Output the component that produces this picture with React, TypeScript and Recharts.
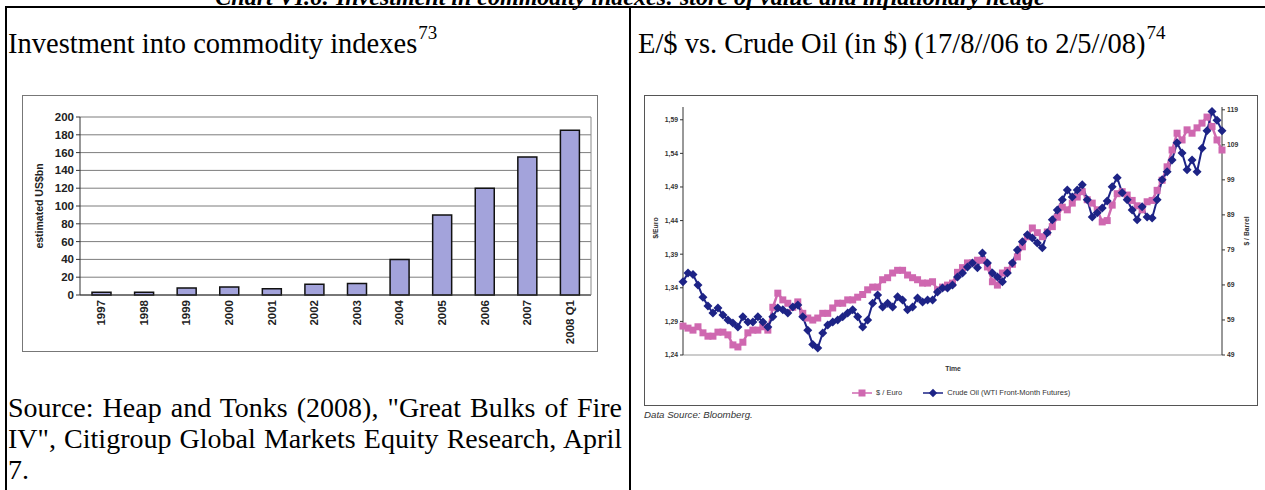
import React from 'react'
import { BarChart, Bar, XAxis, YAxis, CartesianGrid, LineChart, Line } from 'recharts'

// left chart: investment into commodity indexes (US$bn)
const years = ['1997', '1998', '1999', '2000', '2001', '2002', '2003', '2004', '2005', '2006', '2007', '2008 Q1']
const investment = [3, 3, 8, 9, 7, 12, 13, 40, 90, 120, 155, 185]
const investTicks = [0, 20, 40, 60, 80, 100, 120, 140, 160, 180, 200]

// right chart: $/Euro vs crude oil, 17/8/06 to 2/5/08
const eurUsd = [
  1.283, 1.28, 1.277, 1.282, 1.273, 1.268, 1.268, 1.274, 1.274, 1.27,
  1.255, 1.252, 1.259, 1.273, 1.277, 1.277, 1.282, 1.277, 1.311, 1.332,
  1.322, 1.317, 1.311, 1.319, 1.302, 1.295, 1.292, 1.295, 1.302, 1.302,
  1.31, 1.317, 1.317, 1.322, 1.322, 1.326, 1.33, 1.337, 1.341, 1.341,
  1.352, 1.355, 1.362, 1.366, 1.366, 1.359, 1.355, 1.352, 1.347, 1.347,
  1.349, 1.337, 1.341, 1.344, 1.347, 1.363, 1.37, 1.377, 1.377, 1.381,
  1.381, 1.371, 1.349, 1.344, 1.362, 1.366, 1.375, 1.386, 1.401, 1.416,
  1.429, 1.422, 1.416, 1.423, 1.431, 1.445, 1.46, 1.456, 1.466, 1.475,
  1.483, 1.471, 1.466, 1.456, 1.438, 1.44, 1.463, 1.48, 1.483, 1.478,
  1.47, 1.462, 1.456, 1.468, 1.47, 1.485, 1.5, 1.52, 1.545, 1.57,
  1.56, 1.575, 1.57, 1.578, 1.585, 1.594, 1.58, 1.56, 1.545,
]
const crudeOil = [
  69.9, 72.4, 72.0, 69.0, 65.5, 63.0, 61.0, 62.4, 60.4, 59.0,
  58.1, 57.0, 59.9, 58.4, 58.4, 59.9, 58.4, 57.0, 59.9, 62.4,
  61.9, 61.0, 62.7, 63.3, 59.9, 56.1, 52.0, 51.0, 55.3, 57.6,
  58.4, 59.0, 59.9, 61.0, 61.9, 59.9, 57.0, 59.0, 63.8, 66.1,
  62.7, 63.8, 62.7, 65.6, 64.7, 61.9, 62.7, 65.3, 64.1, 64.7,
  64.7, 67.0, 68.1, 68.1, 69.0, 71.3, 72.4, 74.1, 75.3, 73.9,
  78.1, 75.3, 72.4, 71.3, 69.9, 72.4, 75.3, 79.0, 81.3, 83.3,
  82.4, 81.0, 79.6, 83.9, 87.6, 90.4, 93.3, 96.1, 94.1, 96.1,
  97.6, 93.3, 88.4, 89.6, 91.0, 93.0, 97.0, 99.6, 95.3, 93.3,
  90.4, 87.6, 91.3, 88.4, 88.1, 93.3, 99.0, 101.3, 104.7, 109.6,
  106.7, 101.9, 104.7, 101.3, 108.0, 113.0, 118.5, 116.0, 113.0,
]
const eurTicks = [1.24, 1.29, 1.34, 1.39, 1.44, 1.49, 1.54, 1.59]
const oilTicks = [49, 59, 69, 79, 89, 99, 109, 119]

const barData = years.map((year, i) => ({ year, value: investment[i] }))
const lineData = eurUsd.map((eur, i) => ({ idx: i, eur, oil: crudeOil[i] }))

const SANS = '"Liberation Sans", Arial, sans-serif'
const SERIF = '"Liberation Serif", "Times New Roman", serif'
const PINK = '#cf68b0'
const NAVY = '#1d2386'

function YearTick({ x, y, payload }: any) {
  return (
    <text
      x={x}
      y={y}
      dy="0.35em"
      transform={`rotate(-90, ${x}, ${y})`}
      textAnchor="end"
      fontFamily={SANS}
      fontSize={11.5}
      fontWeight="bold"
      fill="#222"
    >
      {payload.value}
    </text>
  )
}

const squareDot = (p: any) => (
  <rect key={`s${p.index}`} x={p.cx - 3.5} y={p.cy - 3.5} width={7} height={7} fill={PINK} />
)
const diamondDot = (p: any) => (
  <polygon
    key={`d${p.index}`}
    points={`${p.cx},${p.cy - 4.5} ${p.cx + 4.5},${p.cy} ${p.cx},${p.cy + 4.5} ${p.cx - 4.5},${p.cy}`}
    fill={NAVY}
  />
)

const smallTick = { fontFamily: SANS, fontSize: 6.8, fontWeight: 'bold', fill: '#333' }

export default function App() {
  return (
    <div
      style={{
        position: 'absolute',
        left: 0,
        top: 0,
        width: 1265,
        height: 490,
        overflow: 'hidden',
        background: '#fff',
        fontFamily: SERIF,
        color: '#000',
      }}
    >
      {/* page caption, cut off at the top like the scan */}
      <div
        style={{
          position: 'absolute',
          left: 0,
          width: 1260,
          top: -15,
          textAlign: 'center',
          fontSize: 24,
          lineHeight: '24px',
          fontWeight: 'bold',
          fontStyle: 'italic',
          whiteSpace: 'nowrap',
        }}
      >
        Chart VI.6: Investment in commodity indexes: store of value and inflationary hedge
      </div>

      {/* table rules */}
      <div style={{ position: 'absolute', left: 5, top: 6, width: 1260, height: 2, background: '#000' }} />
      <div style={{ position: 'absolute', left: 5, top: 6, width: 2, height: 484, background: '#000' }} />
      <div style={{ position: 'absolute', left: 629, top: 6, width: 2, height: 484, background: '#000' }} />

      {/* cell titles */}
      <div style={{ position: 'absolute', left: 8, top: 30, fontSize: 28.5, lineHeight: '28px', whiteSpace: 'nowrap' }}>
        Investment into commodity indexes
        <span style={{ fontSize: 19, position: 'relative', top: -14, marginLeft: 1 }}>73</span>
      </div>
      <div style={{ position: 'absolute', left: 638, top: 30, fontSize: 28.5, lineHeight: '28px', whiteSpace: 'nowrap' }}>
        E/$ vs. Crude Oil (in $) (17/8//06 to 2/5//08)
        <span style={{ fontSize: 19, position: 'relative', top: -14, marginLeft: 1 }}>74</span>
      </div>

      {/* left chart */}
      <div
        style={{
          position: 'absolute',
          left: 22,
          top: 95,
          width: 576,
          height: 257,
          border: '1px solid #777',
          boxSizing: 'border-box',
        }}
      >
        <BarChart width={574} height={255} data={barData} margin={{ top: 21, right: 5, left: 0, bottom: 0 }} barSize={19}>
          <CartesianGrid vertical={false} stroke="#7d7d7d" />
          <XAxis
            dataKey="year"
            interval={0}
            height={56}
            tick={<YearTick />}
            tickLine={false}
            tickSize={3}
            tickMargin={2}
            axisLine={{ stroke: '#333' }}
          />
          <YAxis
            domain={[0, 200]}
            ticks={investTicks}
            interval={0}
            width={57}
            tickSize={4}
            tickMargin={2}
            axisLine={{ stroke: '#333' }}
            tickLine={{ stroke: '#333' }}
            tick={{ fontFamily: SANS, fontSize: 11.5, fontWeight: 'bold', fill: '#222' }}
          />
          <YAxis
            yAxisId="frame"
            orientation="right"
            domain={[0, 200]}
            width={1}
            tick={false}
            tickLine={false}
            axisLine={{ stroke: '#8a8a8a' }}
          />
          <Bar dataKey="value" fill="#a3a3db" stroke="#111" strokeWidth={1.5} isAnimationActive={false} />
        </BarChart>
        <div
          style={{
            position: 'absolute',
            left: 16,
            top: 110,
            transform: 'translate(-50%, -50%) rotate(-90deg)',
            fontFamily: SANS,
            fontSize: 10.5,
            fontWeight: 'bold',
            color: '#222',
            whiteSpace: 'nowrap',
          }}
        >
          estimated US$bn
        </div>
      </div>

      {/* left source */}
      <div
        style={{
          position: 'absolute',
          left: 8,
          top: 392,
          width: 614,
          fontSize: 28,
          lineHeight: '31px',
          textAlign: 'justify',
        }}
      >
        Source: Heap and Tonks (2008), "Great Bulks of Fire IV", Citigroup Global Markets Equity Research, April 7.
      </div>

      {/* right chart */}
      <div
        style={{
          position: 'absolute',
          left: 644,
          top: 95,
          width: 614,
          height: 311,
          border: '1px solid #555',
          boxSizing: 'border-box',
        }}
      >
        <LineChart width={612} height={309} data={lineData} margin={{ top: 11, right: 0, left: 0, bottom: 0 }}>
          <XAxis dataKey="idx" height={50} tick={false} tickLine={false} axisLine={{ stroke: '#999' }} />
          <XAxis
            xAxisId="top"
            dataKey="idx"
            orientation="top"
            height={0}
            tick={false}
            tickLine={false}
            axisLine={{ stroke: '#aaa' }}
          />
          <YAxis
            yAxisId="eur"
            domain={[1.24, 1.609]}
            ticks={eurTicks}
            interval={0}
            width={38}
            tickSize={3}
            tickMargin={2}
            tickFormatter={(v: number) => v.toFixed(2).replace('.', ',')}
            axisLine={{ stroke: '#333' }}
            tickLine={{ stroke: '#333' }}
            tick={smallTick}
          />
          <YAxis
            yAxisId="oil"
            orientation="right"
            domain={[49, 119.8]}
            ticks={oilTicks}
            interval={0}
            width={35}
            tickSize={3}
            tickMargin={2}
            axisLine={{ stroke: '#333' }}
            tickLine={{ stroke: '#333' }}
            tick={smallTick}
          />
          <Line yAxisId="eur" dataKey="eur" stroke={PINK} strokeWidth={2.5} dot={squareDot} isAnimationActive={false} />
          <Line yAxisId="oil" dataKey="oil" stroke={NAVY} strokeWidth={2} dot={diamondDot} isAnimationActive={false} />
        </LineChart>
      </div>

      {/* right chart texts */}
      <div style={{ position: 'absolute', left: 655, top: 228, transform: 'translate(-50%, -50%) rotate(-90deg)', fontFamily: SANS, fontSize: 6.8, fontWeight: 'bold', color: '#333', whiteSpace: 'nowrap' }}>
        $/Euro
      </div>
      <div style={{ position: 'absolute', left: 1246, top: 231, transform: 'translate(-50%, -50%) rotate(-90deg)', fontFamily: SANS, fontSize: 6.8, fontWeight: 'bold', color: '#333', whiteSpace: 'nowrap' }}>
        $ / Barrel
      </div>
      <div style={{ position: 'absolute', left: 953, top: 368, transform: 'translate(-50%, -50%)', fontFamily: SANS, fontSize: 6.8, fontWeight: 'bold', color: '#333', whiteSpace: 'nowrap' }}>
        Time
      </div>
      <div style={{ position: 'absolute', left: 851, top: 387, display: 'flex', alignItems: 'center', fontFamily: SANS, fontSize: 7.5, color: '#333', whiteSpace: 'nowrap', lineHeight: '12px' }}>
        <svg width={22} height={12} style={{ marginRight: 3 }}>
          <line x1={1} y1={6} x2={21} y2={6} stroke={PINK} strokeWidth={1.5} />
          <rect x={7.5} y={2.5} width={7} height={7} fill={PINK} />
        </svg>
        <span>$ / Euro</span>
        <svg width={22} height={12} style={{ marginLeft: 20, marginRight: 3 }}>
          <line x1={1} y1={6} x2={21} y2={6} stroke={NAVY} strokeWidth={1.5} />
          <polygon points="11,1.8 15.2,6 11,10.2 6.8,6" fill={NAVY} />
        </svg>
        <span>Crude Oil (WTI Front-Month Futures)</span>
      </div>
      <div style={{ position: 'absolute', left: 644, top: 409, fontFamily: SANS, fontSize: 9.7, fontStyle: 'italic', color: '#333', whiteSpace: 'nowrap', lineHeight: '12px' }}>
        Data Source: Bloomberg.
      </div>
    </div>
  )
}
